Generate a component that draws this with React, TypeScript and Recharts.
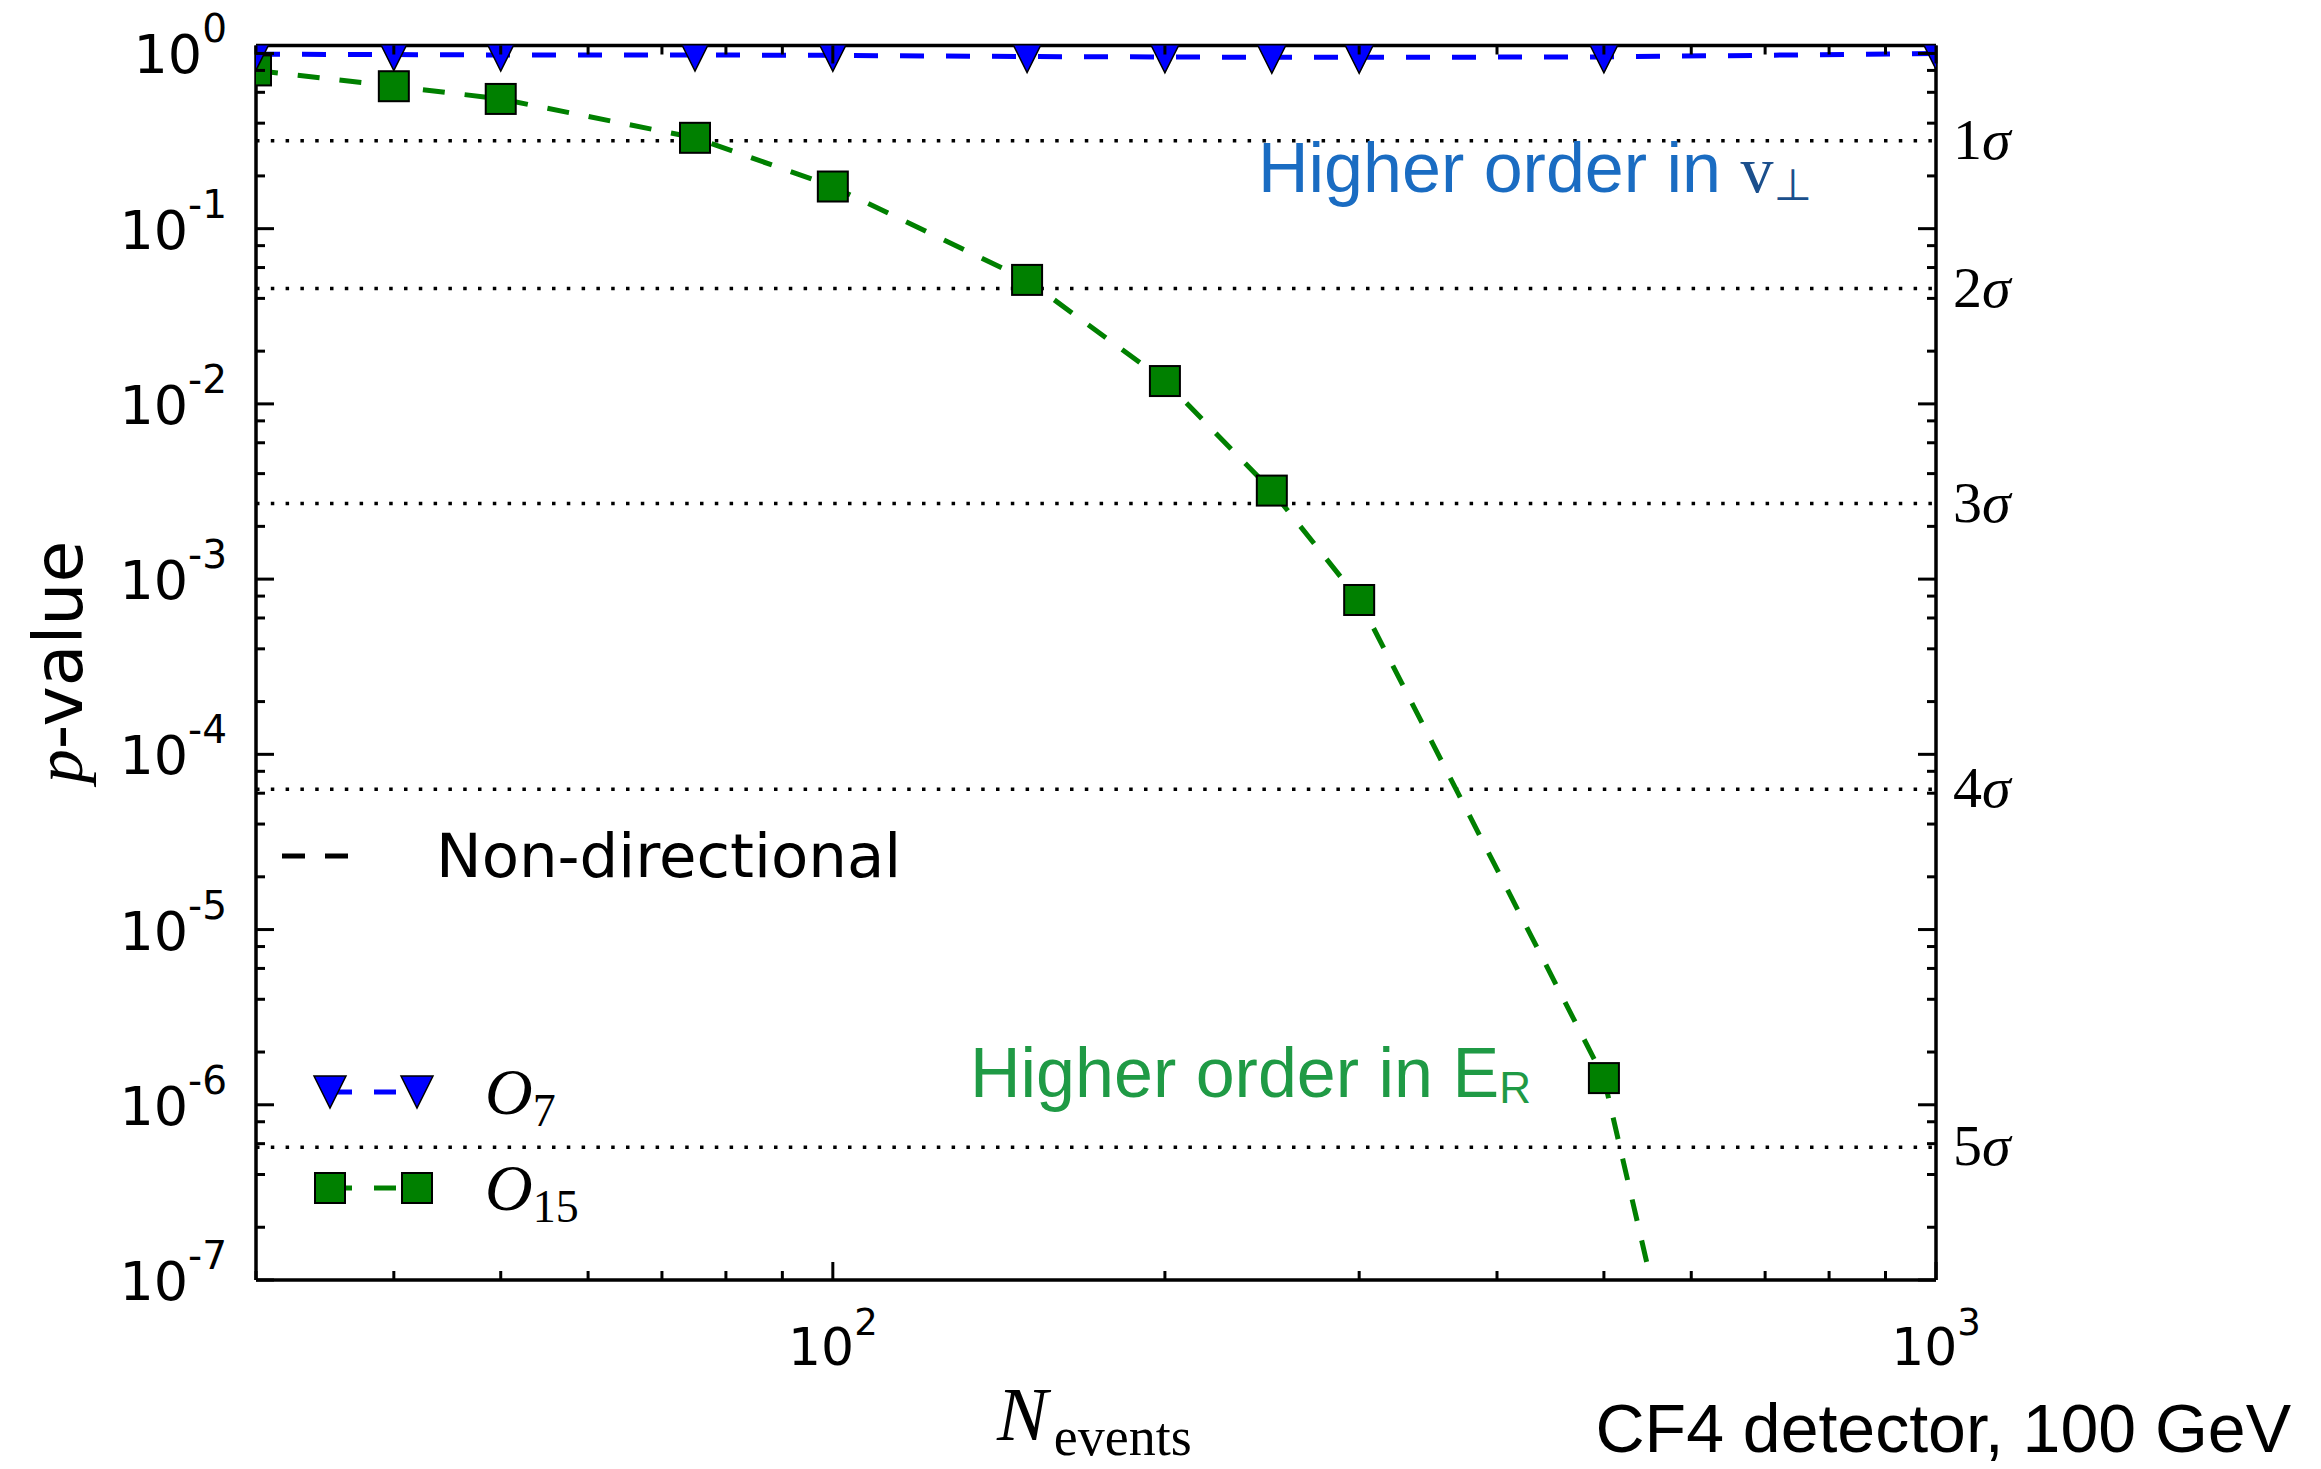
import React from "react";
import { LineChart, Line, XAxis, YAxis, ReferenceLine } from "recharts";

// data
const nEvents = [30, 40, 50, 75, 100, 150, 200, 250, 300, 500, 1000];
const pO7 = [0.99, 0.985, 0.98, 0.98, 0.975, 0.96, 0.955, 0.95, 0.95, 0.955, 1.0];
const pO15 = [0.8, 0.65, 0.55, 0.33, 0.174, 0.051, 0.0135, 0.0032, 0.00076, 1.42e-6, 1e-14];

// significance levels (two-sided p)
const sigmaP = [0.3173, 0.0455, 0.0027, 6.33e-5, 5.73e-7];
const sigmaNames = ["1", "2", "3", "4", "5"];

// ticks
const xMajor = [100, 1000];
const xMajorExp = ["2", "3"];
const xMinor = [30, 40, 50, 60, 70, 80, 90, 200, 300, 400, 500, 600, 700, 800, 900];
const yMajor = [1e-7, 1e-6, 1e-5, 1e-4, 1e-3, 1e-2, 1e-1, 1];
const yMajorExp = ["-7", "-6", "-5", "-4", "-3", "-2", "-1", "0"];
const ySubs = [2, 4, 6, 8];

const xTicks = [...xMajor, ...xMinor].sort((a, b) => a - b);
const yTicks = [...yMajor, ...yMajor.slice(0, -1).flatMap((d) => ySubs.map((s) => s * d))].sort((a, b) => a - b);

const rows = nEvents.map((n, i) => ({ n, o7: pO7[i], o15: pO15[i] }));

const W = 2321;
const H = 1469;
const BLUE = "#0000ff";
const GREEN = "#008000";
const SANS = "DejaVu Sans";
const SERIF = "Liberation Serif";
const HELV = "Liberation Sans";

const isMajor = (arr: number[], v: number) => arr.indexOf(v) >= 0;

function BottomTick({ x, y, payload }: any) {
  const v = payload.value;
  const mj = isMajor(xMajor, v);
  return (
    <g>
      <line x1={x} x2={x} y1={y} y2={y - (mj ? 18 : 9)} stroke="#000" strokeWidth={3} />
      {mj && (
        <text x={x} y={y + 85} textAnchor="middle" fontFamily={SANS} fontSize={52} fill="#000">
          10<tspan dy={-30} fontSize={37}>{xMajorExp[xMajor.indexOf(v)]}</tspan>
        </text>
      )}
    </g>
  );
}

function TopTick({ x, y, payload }: any) {
  const mj = isMajor(xMajor, payload.value);
  return <line x1={x} x2={x} y1={y} y2={y + (mj ? 18 : 9)} stroke="#000" strokeWidth={3} />;
}

function LeftTick({ x, y, payload }: any) {
  const v = payload.value;
  const mj = isMajor(yMajor, v);
  return (
    <g>
      <line x1={x} x2={x + (mj ? 18 : 9)} y1={y} y2={y} stroke="#000" strokeWidth={3} />
      {mj && (
        <text x={x - 29} y={y + 20} textAnchor="end" fontFamily={SANS} fontSize={54} fill="#000">
          10<tspan dy={-31} fontSize={39}>{yMajorExp[yMajor.indexOf(v)]}</tspan>
        </text>
      )}
    </g>
  );
}

function RightTick({ x, y, payload }: any) {
  const mj = isMajor(yMajor, payload.value);
  return <line x1={x} x2={x - (mj ? 18 : 9)} y1={y} y2={y} stroke="#000" strokeWidth={3} />;
}

const triPath = (cx: number, cy: number, r: number) =>
  `M${cx - r},${cy - r}L${cx + r},${cy - r}L${cx},${cy + r}Z`;

function TriDot(props: any) {
  const { cx, cy, index } = props;
  if (cx == null || cy == null) return <g key={index} />;
  return <path key={index} d={triPath(cx, cy, 16)} fill={BLUE} stroke="#000" strokeWidth={1.5} />;
}

function SquareDot(props: any) {
  const { cx, cy, index } = props;
  if (cx == null || cy == null) return <g key={index} />;
  return <rect key={index} x={cx - 15} y={cy - 15} width={30} height={30} fill={GREEN} stroke="#000" strokeWidth={2} />;
}

function sigmaLabel(name: string) {
  return (props: any) => {
    const vb = props.viewBox || {};
    const x = (vb.x || 0) + (vb.width || 0) + 17;
    const y = (vb.y || 0) + 18;
    return (
      <text x={x} y={y} fontFamily={SERIF} fontSize={58} fill="#000">
        {name}
        <tspan fontStyle="italic">σ</tspan>
      </text>
    );
  };
}

const axisLine = { stroke: "#000", strokeWidth: 3.5 };

export default function App() {
  return (
    <div style={{ position: "absolute", left: 0, top: 0, width: W, height: H, background: "#fff", overflow: "hidden" }}>
      <LineChart width={W} height={H} data={rows} margin={{ top: 44.5, right: 384, bottom: 188, left: 255 }}>
        <XAxis
          dataKey="n"
          type="number"
          scale="log"
          domain={[30, 1000]}
          allowDataOverflow
          ticks={xTicks}
          interval={0}
          height={1}
          tickSize={0}
          tickMargin={0}
          tickLine={false}
          axisLine={axisLine}
          tick={<BottomTick />}
        />
        <XAxis
          xAxisId="top"
          orientation="top"
          dataKey="n"
          type="number"
          scale="log"
          domain={[30, 1000]}
          allowDataOverflow
          ticks={xTicks}
          interval={0}
          height={1}
          tickSize={0}
          tickMargin={0}
          tickLine={false}
          axisLine={axisLine}
          tick={<TopTick />}
        />
        <YAxis
          type="number"
          scale="log"
          domain={[1e-7, 1.11]}
          allowDataOverflow
          ticks={yTicks}
          interval={0}
          width={1}
          tickSize={0}
          tickMargin={0}
          tickLine={false}
          axisLine={axisLine}
          tick={<LeftTick />}
        />
        <YAxis
          yAxisId="right"
          orientation="right"
          type="number"
          scale="log"
          domain={[1e-7, 1.11]}
          allowDataOverflow
          ticks={yTicks}
          interval={0}
          width={1}
          tickSize={0}
          tickMargin={0}
          tickLine={false}
          axisLine={axisLine}
          tick={<RightTick />}
        />
        {sigmaP.map((p, i) => (
          <ReferenceLine
            key={i}
            y={p}
            stroke="#000"
            strokeWidth={3.5}
            strokeDasharray="3.5 11.3"
            label={sigmaLabel(sigmaNames[i])}
          />
        ))}
        <Line
          dataKey="o15"
          type="linear"
          stroke={GREEN}
          strokeWidth={5}
          strokeDasharray="22 20"
          dot={SquareDot}
          activeDot={false}
          isAnimationActive={false}
        />
        <Line
          dataKey="o7"
          type="linear"
          stroke={BLUE}
          strokeWidth={5}
          strokeDasharray="24 22"
          dot={TriDot}
          activeDot={false}
          isAnimationActive={false}
        />
      </LineChart>

      <svg width={W} height={H} style={{ position: "absolute", left: 0, top: 0, pointerEvents: "none" }}>
        {/* y label */}
        <text transform="translate(82,662) rotate(-90)" textAnchor="middle" fontSize={68} fill="#000">
          <tspan fontFamily={SERIF} fontStyle="italic">p</tspan>
          <tspan fontFamily={SANS}>-value</tspan>
        </text>
        {/* x label */}
        <text x={997} y={1440} fontFamily={SERIF} fill="#000">
          <tspan fontStyle="italic" fontSize={76}>N</tspan>
          <tspan fontSize={54} dx={6} dy={15}>events</tspan>
        </text>
        <text x={2291} y={1452} textAnchor="end" fontFamily={HELV} fontSize={68} fill="#000">
          CF4 detector, 100 GeV
        </text>

        {/* annotations */}
        <text x={1258} y={192} fontFamily={HELV} fontSize={70} fill="#1a6cc2">
          Higher order in{" "}
          <tspan fontFamily={SERIF} fontSize={66} fill="#1b4f8c">v</tspan>
          <tspan fontFamily={SANS} fontSize={44} dy={8} fill="#1b4f8c">⊥</tspan>
        </text>
        <text x={970} y={1097} fontFamily={HELV} fontSize={70} fill="#1f9a45">
          Higher order in E<tspan fontSize={44} dy={6}>R</tspan>
        </text>

        {/* legend */}
        <line x1={282} x2={348} y1={856} y2={856} stroke="#000" strokeWidth={5} strokeDasharray="23 20" />
        <text x={436} y={877} fontFamily={SANS} fontSize={61} fill="#000">Non-directional</text>

        <line x1={330} x2={417} y1={1092} y2={1092} stroke={BLUE} strokeWidth={5} strokeDasharray="22 22" />
        <path d={triPath(330, 1092, 16)} fill={BLUE} stroke="#000" strokeWidth={1.5} />
        <path d={triPath(417, 1092, 16)} fill={BLUE} stroke="#000" strokeWidth={1.5} />
        <text x={485} y={1114} fontFamily={SERIF} fill="#000">
          <tspan fontStyle="italic" fontSize={66}>O</tspan>
          <tspan fontSize={46} dy={12}>7</tspan>
        </text>

        <line x1={330} x2={417} y1={1188} y2={1188} stroke={GREEN} strokeWidth={5} strokeDasharray="22 22" />
        <rect x={315} y={1173} width={30} height={30} fill={GREEN} stroke="#000" strokeWidth={2} />
        <rect x={402} y={1173} width={30} height={30} fill={GREEN} stroke="#000" strokeWidth={2} />
        <text x={485} y={1210} fontFamily={SERIF} fill="#000">
          <tspan fontStyle="italic" fontSize={66}>O</tspan>
          <tspan fontSize={46} dy={12}>15</tspan>
        </text>
      </svg>
    </div>
  );
}
